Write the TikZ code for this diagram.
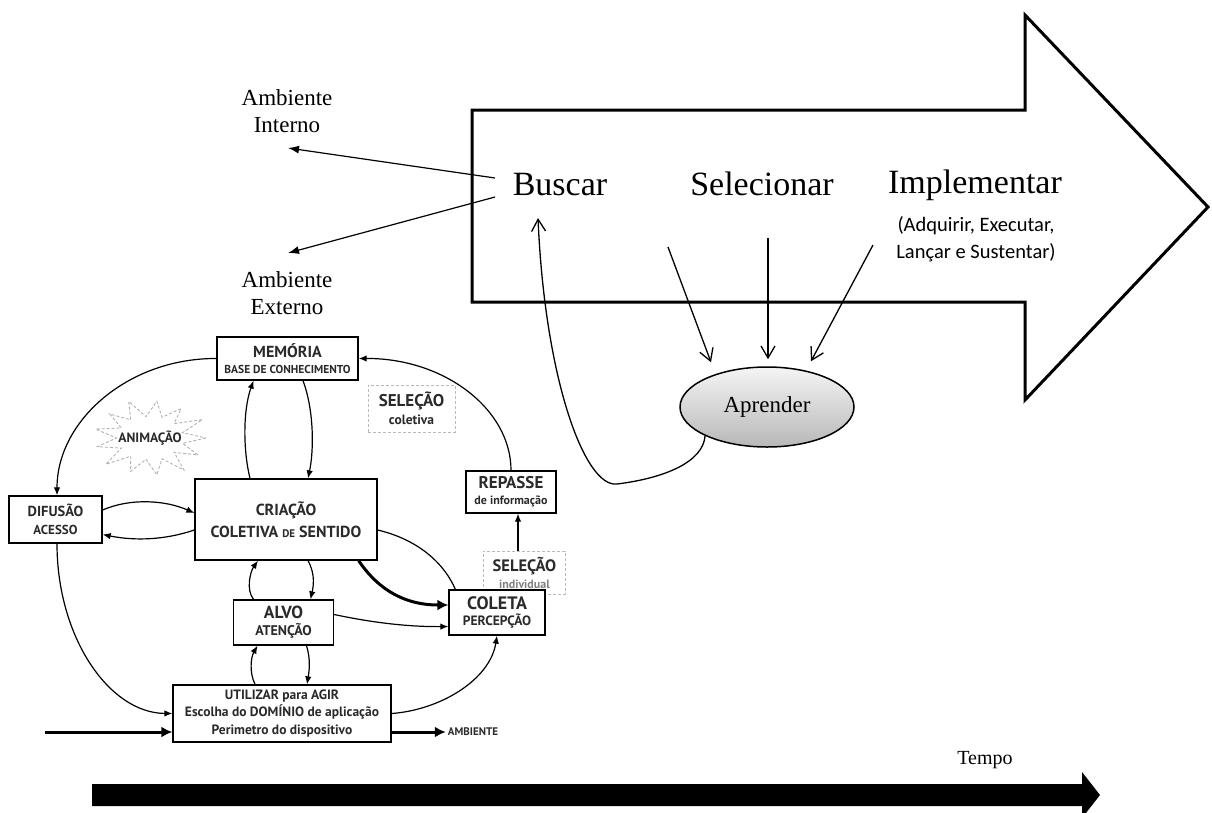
\documentclass[tikz,border=0pt]{standalone}
\usepackage{fontspec}
\setmainfont{Liberation Serif}
\newfontfamily\calib{Carlito}
\newfontfamily\dsans{PT Sans}
\usetikzlibrary{arrows.meta,shapes.geometric,calc}
\definecolor{txt}{HTML}{2A2A2A}
\newcommand\fz[2]{\fontsize{#1}{#2}\selectfont}
\begin{document}
\begin{tikzpicture}[x=1pt,y=-1pt,
  box/.style={draw, line width=1.3, fill=white, inner sep=0, align=center, text=txt},
  dbox/.style={draw=gray!55, densely dashed, line width=0.9, inner sep=0, align=center, text=txt},
  bl/.style={font=\dsans\bfseries\fz{10}{#1}},
  con/.style={line width=1.2, -{Latex[length=8,width=6.5]}},
  ln/.style={line width=1.2},
  thickcon/.style={line width=3, -{Latex[length=11,width=11]}},
  barb/.style={line width=1.3, -{Straight Barb[length=12,width=14]}},
  fil/.style={line width=1.2, -{Latex[length=11,width=8]}},
  serif/.style={font=\fz{23}{27}, align=center, inner sep=0}]
\useasboundingbox (0,0) rectangle (1212,812);

% ---------- big arrow ----------
\draw[line width=3, line join=miter] (472,110) -- (1025,110) -- (1025,15) -- (1208,207) -- (1025,400) -- (1025,302) -- (472,302) -- cycle;
\node[anchor=base, inner sep=0, font=\fz{34}{40}] (bus) at (560,195) {Buscar};
\node[anchor=base, inner sep=0, font=\fz{34}{40}] (sel) at (762,195) {Selecionar};
\node[anchor=base, inner sep=0, font=\fz{34}{40}] (imp) at (975,193) {Implementar};
\node[anchor=north, inner sep=0, align=center, font=\calib\fz{20.5}{27}] (impsub) at (976,216) {(Adquirir, Executar,\\Lançar e Sustentar)};

% ---------- ambiente ----------
\node[serif] (ai) at (287,111) {Ambiente\\Interno};
\node[serif] (ae) at (287,293) {Ambiente\\Externo};
\coordinate (bs1) at (495,178);
\coordinate (bs2) at (495,197);
\coordinate (aitip) at (288,148);
\coordinate (aetip) at (288,253);
\draw[fil] (bs1) -- (aitip);
\draw[fil] (bs2) -- (aetip);

% ---------- aprender ----------
\node[ellipse, draw, line width=1.5, minimum width=174, minimum height=80, inner sep=0,
      top color=black!4, bottom color=black!28, font=\fz{23}{27}] (apr) at (767,407) {Aprender};
\coordinate (s1) at (668,247);
\coordinate (s2) at (768,238);
\coordinate (s3) at (873,245);
\draw[barb] (s1) -- ([xshift=-56,yshift=4]apr.north);
\draw[barb] (s2) -- ([xshift=1,yshift=7]apr.north);
\draw[barb] (s3) -- ([xshift=44,yshift=5]apr.north);
\coordinate (bustip) at (538,218);
\draw[barb] (apr.205) .. controls (703,462) and (665,478) .. (617,484) .. controls (585,488) and (545,380) .. (bustip);

% ---------- tempo ----------
\node[inner sep=0, font=\fz{20}{24}] (tempo) at (985,760) {Tempo};
\fill (92,784) -- (1082,784) -- (1082,772) -- (1100,795) -- (1082,818) -- (1082,806) -- (92,806) -- cycle;

% ---------- left cycle diagram ----------
\node[dbox, bl=18, minimum width=87, minimum height=47] (selc) at (411.5,408.5) {\fz{17}{17}SELEÇÃO\\\fz{13.5}{13}coletiva};
\node[dbox, bl=17, minimum width=82, minimum height=43, anchor=north west] (seli) at (483,551) {\fz{16.5}{17}SELEÇÃO\\\fz{12}{13}\color{gray}individual};
\draw[draw=gray!60, densely dashed, line width=0.9] (206,438)
  \foreach \a/\r in {14/.6, 28/.97, 42/.58, 55/1.06, 69/.6, 83/1.0, 97/.58, 111/.97, 125/.6, 138/1.06, 152/.58, 166/.97, 180/.6, 194/1.0, 208/.58, 222/.97, 235/.6, 249/1.06, 263/.58, 277/1.0, 291/.6, 305/.97, 318/.58, 332/1.06, 346/.6}
  { -- ({150+56*\r*cos(\a)},{438+37*\r*sin(\a)}) } -- cycle;
\node[inner sep=0, text=txt, font=\dsans\bfseries\fz{13.5}{15}] (anim) at (150,438) {ANIMAÇÃO};

\node[box, bl=16, minimum width=141, minimum height=43] (mem) at (287.5,358.5) {\fz{16}{17}MEMÓRIA\\\fz{11.5}{12}BASE DE CONHECIMENTO};
\node[box, bl=18.5, minimum width=93, minimum height=47] (dif) at (55.5,519.5) {\fz{14.5}{18}DIFUSÃO\\\fz{13}{13}ACESSO};
\node[box, bl=22, minimum width=182, minimum height=81] (cri) at (286,519.5) {\fz{16}{19}CRIAÇÃO\\\fz{16}{19}COLETIVA {\fz{11}{13}DE} SENTIDO};
\node[box, bl=16, minimum width=90, minimum height=42] (rep) at (511,492) {\fz{17}{17}REPASSE\\\fz{12}{12}de informação};
\node[box, bl=16.5, minimum width=96, minimum height=45] (col) at (497,612.5) {\fz{18}{17}COLETA\\\fz{13.5}{13}PERCEPÇÃO};
\node[box, bl=17, minimum width=100, minimum height=45] (alvo) at (283.5,622.5) {\fz{17.5}{17}ALVO\\\fz{14}{13}ATENÇÃO};
\node[box, font=\dsans\bfseries\fz{13.5}{17.5}, minimum width=218, minimum height=57] (util) at (282,713.5) {UTILIZAR para AGIR\\Escolha do DOMÍNIO de aplicação\\Perimetro do dispositivo};
\node[inner sep=2, font=\dsans\bfseries\fz{11}{12}, text=txt] (amb) at (473,732) {AMBIENTE};
\coordinate (inl) at (45,732);

\draw[con] (mem.west) .. controls (129,358) and (57,420) .. ([xshift=1.5]dif.north);
\draw[con] ([xshift=1.5]dif.south) .. controls (57,637) and (109,713) .. (util.west);
\draw[con] ([yshift=9.5]dif.east) .. controls (130,498) and (165,500) .. ([yshift=6.5]cri.west);
\draw[con] ([yshift=-10.5]cri.west) .. controls (165,540) and (135,541) .. ([yshift=-15]dif.east);
\draw[con] ([xshift=-36]cri.north) .. controls (243,450) and (243,410) .. ([xshift=-34]mem.south);
\draw[con] ([xshift=15.5]mem.south) .. controls (314,410) and (314,450) .. ([xshift=22]cri.north);
\draw[con] (rep.north) .. controls (511,409) and (444,358) .. (mem.east);
\draw[con] ([xshift=7]rep.south |- seli.north) -- ([xshift=7]rep.south);
\draw[ln] ([yshift=-10.5]cri.east) .. controls (420,540) and (445,565) .. ([xshift=7]col.north west);
\draw[thickcon] ([xshift=-19]cri.south east) .. controls (375,585) and (400,605) .. ([yshift=7.5]col.west);
\draw[con] ([yshift=8]alvo.east) .. controls (360,620) and (400,627) .. ([yshift=-14]col.west);
\draw[con] ([xshift=-30]alvo.north) .. controls (246,590) and (250,572) .. ([xshift=-28]cri.south);
\draw[con] ([xshift=22]cri.south) .. controls (316,575) and (313,588) .. ([xshift=27]alvo.north);
\draw[con] ([xshift=-27]util.north) .. controls (249,672) and (251,657) .. ([xshift=-26]alvo.south);
\draw[con] ([xshift=23]alvo.south) .. controls (311,660) and (309,672) .. ([xshift=25]util.north);
\draw[con] (util.east) .. controls (440,710) and (490,680) .. (col.south);
\draw[thickcon] (inl) -- (util.west |- inl);
\draw[thickcon] (util.east |- amb.west) -- (amb.west);
\end{tikzpicture}
\end{document}
